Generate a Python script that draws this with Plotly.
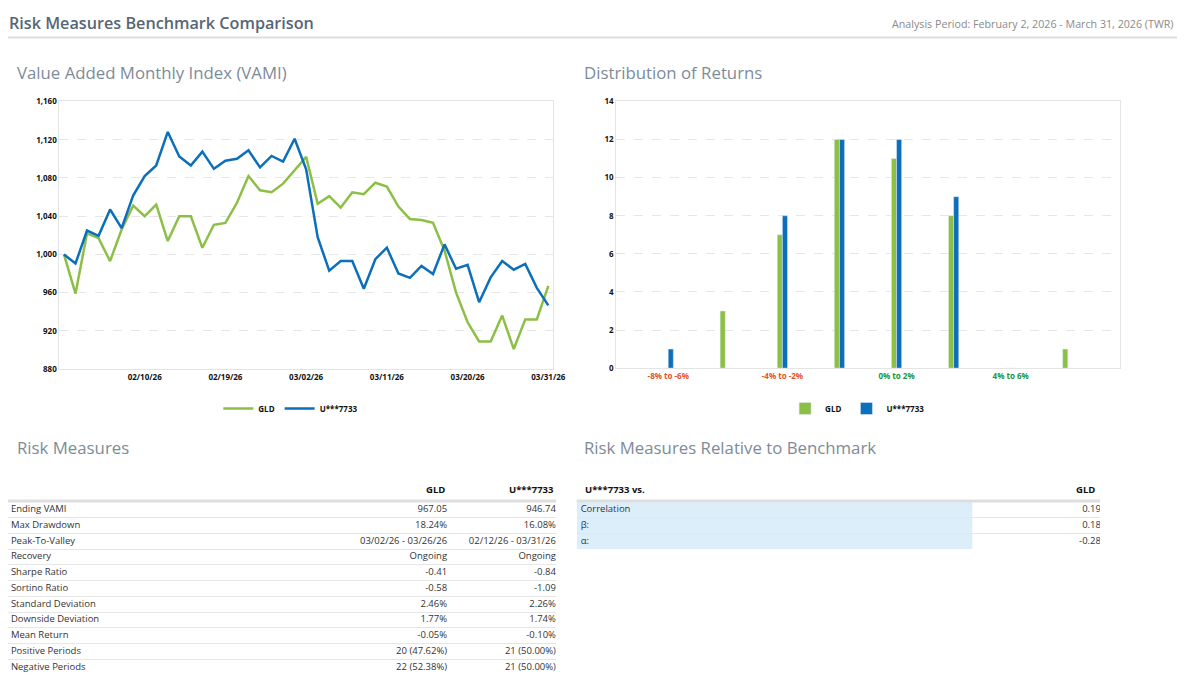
import plotly.graph_objects as go

# ---- data ----
dates = [
    "01/30/26", "02/02/26", "02/03/26", "02/04/26", "02/05/26", "02/06/26", "02/09/26",
    "02/10/26", "02/11/26", "02/12/26", "02/13/26", "02/16/26", "02/17/26", "02/18/26",
    "02/19/26", "02/20/26", "02/23/26", "02/24/26", "02/25/26", "02/26/26", "02/27/26",
    "03/02/26", "03/03/26", "03/04/26", "03/05/26", "03/06/26", "03/09/26", "03/10/26",
    "03/11/26", "03/12/26", "03/13/26", "03/16/26", "03/17/26", "03/18/26", "03/19/26",
    "03/20/26", "03/23/26", "03/24/26", "03/25/26", "03/26/26", "03/27/26", "03/30/26",
    "03/31/26",
]
date_ticks = ["02/10/26", "02/19/26", "03/02/26", "03/11/26", "03/20/26", "03/31/26"]

vami_gld = [1000, 959, 1022, 1017, 993, 1026, 1051, 1040, 1052, 1014, 1040, 1040, 1007,
            1031, 1033, 1054, 1082, 1067, 1065, 1074, 1088, 1102, 1053, 1061, 1049, 1065,
            1063, 1075, 1071, 1050, 1037, 1036, 1033, 1004, 960, 929, 909, 909, 936, 901,
            932, 932, 967.05]
vami_acct = [1000, 990.5, 1025, 1019.5, 1047, 1027.5, 1061.5, 1082, 1093, 1128.1, 1102.5,
             1093, 1107.5, 1089.5, 1098, 1100, 1109, 1091, 1103, 1097, 1121, 1089, 1018,
             983, 993, 993, 964, 995, 1007, 980, 975.5, 988, 979.5, 1010.5, 985, 989, 950,
             976, 993, 984, 990, 965, 946.74]

buckets = ["-8% to -6%", "-6% to -4%", "-4% to -2%", "-2% to 0%",
           "0% to 2%", "2% to 4%", "4% to 6%", "6% to 8%"]
dist_gld = [0, 3, 7, 12, 11, 8, 0, 1]
dist_acct = [1, 0, 8, 12, 12, 9, 0, 0]
bucket_ticks = ["-8% to -6%", "-4% to -2%", "0% to 2%", "4% to 6%"]
bucket_colors = ["#e8501f", "#e8501f", "#12963f", "#12963f"]

rm_labels = ["Ending VAMI", "Max Drawdown", "Peak-To-Valley", "Recovery", "Sharpe Ratio",
             "Sortino Ratio", "Standard Deviation", "Downside Deviation", "Mean Return",
             "Positive Periods", "Negative Periods"]
rm_gld = ["967.05", "18.24%", "03/02/26 - 03/26/26", "Ongoing", "-0.41", "-0.58",
          "2.46%", "1.77%", "-0.05%", "20 (47.62%)", "22 (52.38%)"]
rm_acct = ["946.74", "16.08%", "02/12/26 - 03/31/26", "Ongoing", "-0.84", "-1.09",
           "2.26%", "1.74%", "-0.10%", "21 (50.00%)", "21 (50.00%)"]
rm_header = ["GLD", "U***7733"]

rel_labels = ["Correlation", "β:", "α:"]
rel_gld = ["0.19", "0.18", "-0.28"]
rel_header = ["U***7733 vs.", "GLD"]

GREEN = "#8cbf45"
BLUE = "#0b6fbb"
W, H = 1200, 691


def px_x(v):
    return v / W


def px_y(v):
    return 1 - v / H


tick_font = dict(family="Open Sans", size=8, color="#111", weight="bold")
cell_font = dict(family="Open Sans", size=9.5, color="#333")
head_font = dict(family="Open Sans", size=9.5, color="#111", weight="bold")

fig = go.Figure()

# --- VAMI lines ---
fig.add_trace(go.Scatter(x=dates, y=vami_gld, name="GLD", mode="lines",
                         line=dict(color=GREEN, width=2.5), xaxis="x", yaxis="y",
                         legend="legend"))
fig.add_trace(go.Scatter(x=dates, y=vami_acct, name="U***7733", mode="lines",
                         line=dict(color=BLUE, width=2.5), xaxis="x", yaxis="y",
                         legend="legend"))

# --- distribution bars ---
fig.add_trace(go.Bar(x=buckets, y=dist_gld, name="GLD", marker_color=GREEN,
                     xaxis="x2", yaxis="y2", legend="legend2"))
fig.add_trace(go.Bar(x=buckets, y=dist_acct, name="U***7733", marker_color=BLUE,
                     xaxis="x2", yaxis="y2", legend="legend2"))

# --- Risk Measures table (text on its own axes, one row per unit) ---
rows = list(range(len(rm_labels)))
for col_x, vals, pos in [(3, rm_labels, "middle right"), (444, rm_gld, "middle left"),
                         (554, rm_acct, "middle left")]:
    fig.add_trace(go.Scatter(x=[col_x] * len(vals), y=rows, text=vals, mode="text",
                             textposition=pos, textfont=cell_font, showlegend=False,
                             hoverinfo="skip", xaxis="x3", yaxis="y3"))

# --- Relative table ---
rrows = list(range(len(rel_labels)))
fig.add_trace(go.Scatter(x=[4] * len(rel_labels), y=rrows, text=rel_labels, mode="text",
                         textposition="middle right", textfont=cell_font, showlegend=False,
                         hoverinfo="skip", xaxis="x4", yaxis="y4"))
fig.add_trace(go.Scatter(x=[530] * len(rel_gld), y=rrows, text=rel_gld, mode="text",
                         textposition="middle left", textfont=cell_font, showlegend=False,
                         hoverinfo="skip", xaxis="x4", yaxis="y4"))

HDR_Y = 491
ROW_TOP = 504
ROW_H = 16

shapes = [dict(type="line", xref="paper", yref="paper", x0=px_x(8), x1=px_x(1190),
               y0=px_y(32), y1=px_y(32), line=dict(color="#dddddd", width=2))]
for x0, x1 in [(8, 562), (583, 1112)]:
    shapes.append(dict(type="line", xref="paper", yref="paper", x0=px_x(x0), x1=px_x(x1),
                       y0=px_y(ROW_TOP - 1), y1=px_y(ROW_TOP - 1),
                       line=dict(color="#dedede", width=3)))
# blue fill behind relative-table labels
for r in rrows:
    shapes.append(dict(type="rect", xref="x4", yref="y4", x0=0, x1=400, y0=r - 0.5,
                       y1=r + 0.5, fillcolor="#ddeefb", line=dict(width=0), layer="below"))

title_font = dict(family="Open Sans", size=16.8, color="#7d8b99")
annotations = [
    dict(text="Risk Measures Benchmark Comparison", x=px_x(7), y=px_y(17), xref="paper",
         yref="paper", xanchor="left", yanchor="middle", showarrow=False,
         font=dict(family="Open Sans", size=16.2, color="#566677", weight=600)),
    dict(text="Analysis Period: February 2, 2026 - March 31, 2026 (TWR)", x=px_x(1189),
         y=px_y(18), xref="paper", yref="paper", xanchor="right", yanchor="middle",
         showarrow=False, font=dict(family="Open Sans", size=10.7, color="#8a8a8a")),
    dict(text="Value Added Monthly Index (VAMI)", x=px_x(15), y=px_y(68), xref="paper",
         yref="paper", xanchor="left", yanchor="middle", showarrow=False, font=title_font),
    dict(text="Distribution of Returns", x=px_x(588), y=px_y(68), xref="paper",
         yref="paper", xanchor="left", yanchor="middle", showarrow=False, font=title_font),
    dict(text="Risk Measures", x=px_x(15), y=px_y(449), xref="paper",
         yref="paper", xanchor="left", yanchor="middle", showarrow=False, font=title_font),
    dict(text="Risk Measures Relative to Benchmark", x=px_x(588), y=px_y(449), xref="paper",
         yref="paper", xanchor="left", yanchor="middle", showarrow=False, font=title_font),
]
# table headers
for xv, t in zip([444, 554], rm_header):
    annotations.append(dict(text=t, x=xv, xref="x3", y=px_y(HDR_Y), yref="paper",
                            xanchor="right", yanchor="middle", showarrow=False, font=head_font))
annotations.append(dict(text=rel_header[0], x=6, xref="x4", y=px_y(HDR_Y), yref="paper",
                        xanchor="left", yanchor="middle", showarrow=False, font=head_font))
annotations.append(dict(text=rel_header[1], x=526, xref="x4", y=px_y(HDR_Y), yref="paper",
                        xanchor="right", yanchor="middle", showarrow=False, font=head_font))

axis_common = dict(showline=True, linecolor="#e4e4e4", linewidth=1, mirror=True,
                   ticks="", tickfont=tick_font, zeroline=False)
table_x = dict(showgrid=False, showticklabels=False, zeroline=False, showline=False,
               fixedrange=True)
table_y = dict(showgrid=True, gridcolor="#e6e6e6", gridwidth=1, showticklabels=False,
               zeroline=False, showline=False, ticks="", fixedrange=True)

fig.update_layout(
    width=W, height=H, autosize=False,
    margin=dict(l=0, r=0, t=0, b=0),
    paper_bgcolor="white", plot_bgcolor="white",
    font=dict(family="Open Sans"),
    xaxis=dict(domain=[px_x(60), px_x(559)], type="category", range=[-0.4, 42.4],
               tickvals=date_ticks, ticktext=date_ticks, showgrid=False, anchor="y",
               **axis_common),
    yaxis=dict(domain=[px_y(369), px_y(97)], range=[880, 1160], dtick=40,
               tickformat=",", showgrid=True, gridcolor="#e6e6e6", griddash="dash",
               anchor="x", **axis_common),
    xaxis2=dict(domain=[px_x(623), px_x(1132)], type="category", range=[-0.91, 7.91],
                tickvals=bucket_ticks,
                ticktext=[f"<span style='color:{c}'>{t}</span>" for t, c in zip(bucket_ticks, bucket_colors)],
                showgrid=False, anchor="y2", **axis_common),
    yaxis2=dict(domain=[px_y(368), px_y(97)], range=[0, 14], dtick=2,
                showgrid=True, gridcolor="#e6e6e6", griddash="dash", anchor="x2",
                **axis_common),
    xaxis3=dict(domain=[px_x(8), px_x(562)], range=[0, 554], anchor="y3", **table_x),
    yaxis3=dict(domain=[px_y(ROW_TOP + ROW_H * len(rm_labels)), px_y(ROW_TOP)],
                range=[len(rm_labels) - 0.5, -0.5], anchor="x3",
                tickvals=[r + 0.5 for r in rows], **table_y),
    xaxis4=dict(domain=[px_x(583), px_x(1112)], range=[0, 529], anchor="y4", **table_x),
    yaxis4=dict(domain=[px_y(ROW_TOP + ROW_H * len(rel_labels)), px_y(ROW_TOP)],
                range=[len(rel_labels) - 0.5, -0.5], anchor="x4",
                tickvals=[r + 0.5 for r in rrows], **table_y),
    barmode="group", bargap=0.82, bargroupgap=0,
    legend=dict(orientation="h", x=px_x(294), y=px_y(409), xanchor="center",
                yanchor="middle", font=tick_font, itemwidth=30,
                bgcolor="rgba(0,0,0,0)"),
    legend2=dict(orientation="h", x=px_x(867), y=px_y(409), xanchor="center",
                 yanchor="middle", font=tick_font, bgcolor="rgba(0,0,0,0)"),
    shapes=shapes,
    annotations=annotations,
)

# drop the browser's default body margin so the figure sits at the page origin
fig.write_html("out.html", config={"displayModeBar": False},
               post_script="document.body.style.margin='0px';")
